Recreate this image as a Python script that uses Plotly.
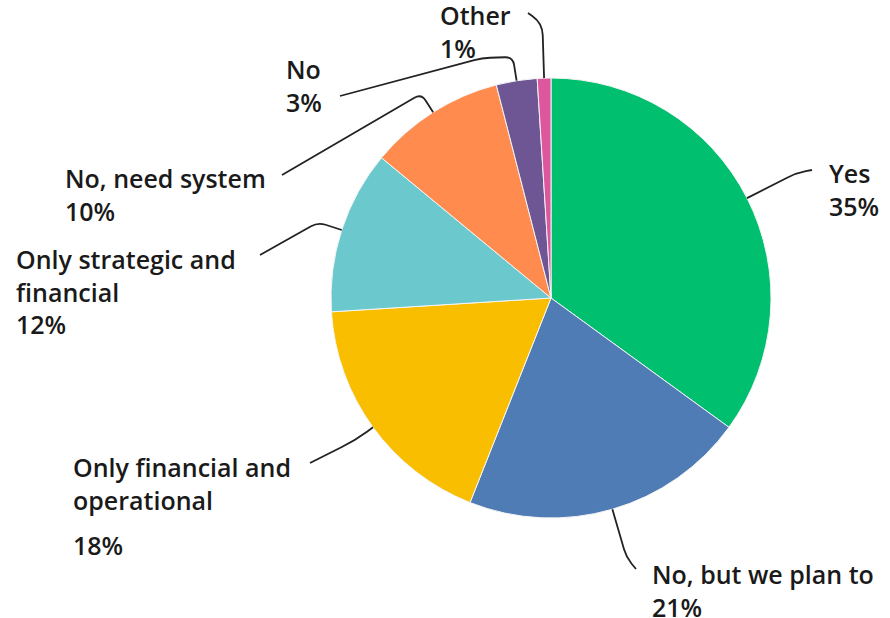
import math
import plotly.graph_objects as go

# Survey responses (percent of respondents)
categories = [
    "Yes",
    "No, but we plan to",
    "Only financial and operational",
    "Only strategic and financial",
    "No, need system",
    "No",
    "Other",
]
shares = [35, 21, 18, 12, 10, 3, 1]
colors = ["#00BF6F", "#507CB6", "#F9BE00", "#6BC8CD", "#FF8B4F", "#6E5594", "#DD579E"]

# Label text blocks for each slice (each block is one annotation)
label_blocks = [
    ["Yes<br>35%"],
    ["No, but we plan to<br>21%"],
    ["Only financial and<br>operational", "18%"],
    ["Only strategic and<br>financial<br>12%"],
    ["No, need system<br>10%"],
    ["No<br>3%"],
    ["Other<br>1%"],
]

W, H = 890, 618
CX, CY, R = 551, 298, 220  # pie centre and radius in pixels
FONT_SIZE = 25

# Label placement (pixels): left x, centre y of the first line of each block
label_pos = [
    (828, [171]),
    (651, [572]),
    (72, [465, 543]),
    (15, [257]),
    (64, [176]),
    (285, [67]),
    (439, [13]),
]
# Leader lines: radial extension beyond the rim, extra waypoints, end point, corner radius
leader = [
    dict(ext=55, via=[], end=(812, 170), rc=10),
    dict(ext=50, via=[], end=(636, 569), rc=8),
    dict(ext=22, via=[], end=(310, 463), rc=15),
    dict(ext=25, via=[], end=(260, 255), rc=8),
    dict(ext=22, via=[], end=(282, 175), rc=8),
    dict(ext=24, via=[(482, 58)], end=(340, 96), rc=8),
    dict(ext=55, via=[], end=(528, 13), rc=12),
]


def px(x):
    return x / W


def py(y):
    return 1 - y / H


def unit(ax, ay, bx, by):
    dx, dy = bx - ax, by - ay
    n = math.hypot(dx, dy) or 1
    return dx / n, dy / n


fig = go.Figure(
    go.Pie(
        labels=categories,
        values=shares,
        sort=False,
        direction="clockwise",
        rotation=0,
        marker=dict(colors=colors, line=dict(color="#f4f4f4", width=1)),
        textinfo="none",
        hoverinfo="label+percent",
        domain=dict(x=[(CX - R) / W, (CX + R) / W], y=[1 - (CY + R) / H, 1 - (CY - R) / H]),
        showlegend=False,
    )
)

total = sum(shares)
cum = 0
shapes = []
annotations = []
for i, v in enumerate(shares):
    mid = (cum + v / 2) / total * 2 * math.pi
    cum += v
    dx, dy = math.sin(mid), -math.cos(mid)
    start = (CX + R * dx, CY + R * dy)
    spec = leader[i]
    elbow = (CX + (R + spec["ext"]) * dx, CY + (R + spec["ext"]) * dy)
    pts = [start, elbow] + spec["via"] + [spec["end"]]
    rc = spec["rc"]
    path = f"M {px(pts[0][0])},{py(pts[0][1])}"
    for k in range(1, len(pts) - 1):
        p, c, n = pts[k - 1], pts[k], pts[k + 1]
        u1 = unit(c[0], c[1], p[0], p[1])
        u2 = unit(c[0], c[1], n[0], n[1])
        a = (c[0] + u1[0] * rc, c[1] + u1[1] * rc)
        b = (c[0] + u2[0] * rc, c[1] + u2[1] * rc)
        path += f" L {px(a[0])},{py(a[1])} Q {px(c[0])},{py(c[1])} {px(b[0])},{py(b[1])}"
    path += f" L {px(pts[-1][0])},{py(pts[-1][1])}"
    shapes.append(
        dict(type="path", path=path, xref="paper", yref="paper",
             line=dict(color="#222222", width=1.8))
    )

    lx, ys = label_pos[i]
    for text, ly in zip(label_blocks[i], ys):
        top = ly - 0.65 * FONT_SIZE
        annotations.append(
            dict(text=text, x=px(lx), y=py(top), xref="paper", yref="paper",
                 xanchor="left", yanchor="top", align="left", showarrow=False,
                 borderpad=0,
                 font=dict(family="Open Sans", size=FONT_SIZE, weight=600, color="#1a1a1a"))
        )

fig.update_layout(
    width=W,
    height=H,
    margin=dict(l=0, r=0, t=0, b=0),
    paper_bgcolor="white",
    plot_bgcolor="white",
    shapes=shapes,
    annotations=annotations,
)

fig.write_html("out.html")
